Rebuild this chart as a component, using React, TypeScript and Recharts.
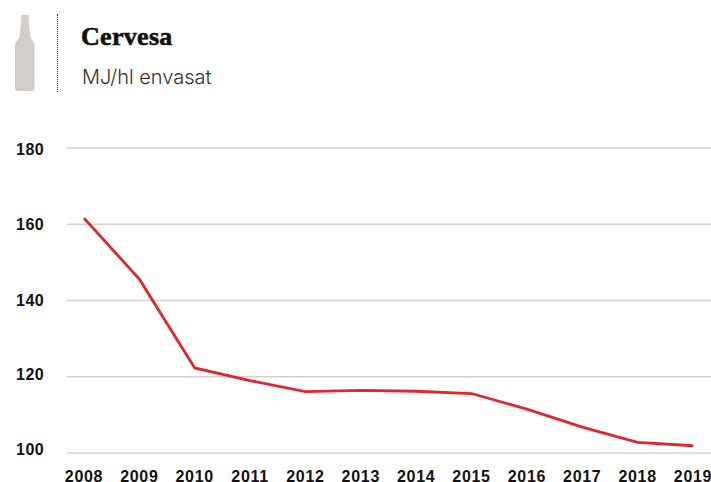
import { LineChart, Line, XAxis, YAxis, CartesianGrid } from 'recharts';

const years = ['2008', '2009', '2010', '2011', '2012', '2013', '2014', '2015', '2016', '2017', '2018', '2019'];
const values = [161.6, 145.6, 122.3, 119, 116.1, 116.4, 116.2, 115.6, 111.5, 106.8, 102.8, 101.9];
const yTicks = [100, 120, 140, 160, 180];

const chartData = years.map((year, i) => ({ year, value: values[i] }));

// labels drift a little against the gridlines in the original
const labelShift: Record<number, number> = { 100: -3.5, 120: -2, 140: -0.5, 160: 0.5, 180: 1.5 };

const YTick = ({ y, payload }: any) => (
  <text
    x={16}
    y={y + labelShift[payload.value]}
    dy={5.5}
    fontFamily="'Liberation Sans', sans-serif"
    fontSize={16}
    fontWeight={700}
    letterSpacing={0.5}
    fill="#111"
  >
    {payload.value}
  </text>
);

const Bottle = () => (
  <svg width={22} height={78} style={{ position: 'absolute', left: 14, top: 14 }}>
    <path
      d="M7 1.5 Q7 1 8 1 L14 1 Q15 1 15 1.5 L15 5 L14.6 6 L16 20 Q16.4 24 19 27 Q20.5 29 20.5 33 L20.5 74.5 Q20.5 77 18 77 L4 77 Q1 77 1 74.5 L1 33 Q1 29 3 27 Q5.6 24 6 20 L7.4 6 L7 5 Z"
      fill="#d3cec8"
    />
  </svg>
);

export default function App() {
  return (
    <div style={{ position: 'absolute', left: 0, top: 0, width: 711, height: 482, overflow: 'hidden', background: '#fff' }}>
      <LineChart width={711} height={482} data={chartData} margin={{ top: 148, right: 0, bottom: 0, left: 0 }}>
        <CartesianGrid horizontal vertical={false} stroke="#d8d2c9" strokeWidth={1.3} />
        <XAxis
          dataKey="year"
          interval={0}
          padding={{ left: 17, right: 18 }}
          axisLine={false}
          tickLine={false}
          height={29}
          tickMargin={12}
          tick={{ fontFamily: "'Liberation Sans', sans-serif", fontSize: 16, fontWeight: 700, fill: '#111', letterSpacing: 0.7 }}
        />
        <YAxis width={67} domain={[100, 180]} ticks={yTicks} axisLine={false} tickLine={false} tick={<YTick />} />
        <Line dataKey="value" type="linear" stroke="#e0262e" strokeWidth={2.8} dot={false} isAnimationActive={false} />
      </LineChart>
      <Bottle />
      <div style={{ position: 'absolute', left: 57, top: 14, height: 78, borderLeft: '1.5px dotted #333' }} />
      <div style={{ position: 'absolute', left: 81, top: 22, fontFamily: "'Liberation Serif', serif", fontWeight: 700, fontSize: 26, letterSpacing: 0.3, lineHeight: '30px', color: '#111', WebkitTextStroke: '0.6px #111' }}>
        Cervesa
      </div>
      <div style={{ position: 'absolute', left: 82, top: 64, fontFamily: "Inter, sans-serif", fontWeight: 300, fontSize: 20, lineHeight: '26px', color: '#333' }}>
        MJ/hl envasat
      </div>
    </div>
  );
}
